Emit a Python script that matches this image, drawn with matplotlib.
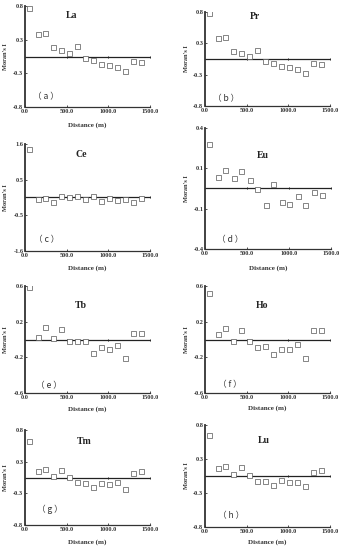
import numpy as np
import matplotlib
matplotlib.use("Agg")
import matplotlib.pyplot as plt

# ---------------- data ----------------
distance = [50, 152, 240, 340, 433, 532, 624, 722, 814, 914, 1005, 1105, 1196, 1293, 1388]

elements = ["La", "Pr", "Ce", "Eu", "Tb", "Ho", "Tm", "Lu"]
panel_tags = ["a", "b", "c", "d", "e", "f", "g", "h"]
y_limits = [0.8, 0.8, 1.6, 0.4, 0.6, 0.6, 0.8, 0.8]

moran_La = [0.77, 0.36, 0.365, 0.144, 0.097, 0.055, 0.16, -0.03, -0.06, -0.12, -0.14, -0.17, -0.23, -0.07, -0.08]
moran_Pr = [0.775, 0.365, 0.37, 0.14, 0.10, 0.05, 0.157, -0.04, -0.067, -0.124, -0.14, -0.174, -0.236, -0.067, -0.084]
moran_Ce = [1.45, -0.05, -0.02, -0.14, 0.05, 0.0, 0.05, -0.04, 0.04, -0.11, -0.01, -0.07, -0.04, -0.12, -0.01]
moran_Eu = [0.293, 0.074, 0.122, 0.072, 0.114, 0.055, -0.002, -0.107, 0.028, -0.09, -0.10, -0.05, -0.109, -0.022, -0.042]
moran_Tb = [0.585, 0.028, 0.144, 0.017, 0.114, -0.017, -0.017, -0.013, -0.155, -0.088, -0.11, -0.058, -0.211, 0.069, 0.073]
moran_Ho = [0.523, 0.067, 0.127, -0.015, 0.108, -0.019, -0.086, -0.075, -0.164, -0.105, -0.112, -0.045, -0.202, 0.101, 0.112]
moran_Tm = [0.62, 0.115, 0.149, 0.02, 0.132, 0.003, -0.08, -0.087, -0.154, -0.093, -0.115, -0.08, -0.19, 0.081, 0.104]
moran_Lu = [0.645, 0.131, 0.157, 0.026, 0.147, 0.01, -0.073, -0.084, -0.136, -0.068, -0.094, -0.10, -0.163, 0.068, 0.094]

series = [moran_La, moran_Pr, moran_Ce, moran_Eu, moran_Tb, moran_Ho, moran_Tm, moran_Lu]
x_ticks = [0, 500, 1000, 1500]
x_ticklabels = ["0.0", "500.0", "1000.0", "1500.0"]

# ---------------- layout (pixels) ----------------
W, H = 343, 550
# (left px, right px, top px, bottom px)
boxes = [
    (25, 150, 6, 107), (205, 330, 12, 106),
    (25, 150, 144, 251), (205, 331, 128, 249),
    (25, 150, 286, 393), (205, 330, 286, 393),
    (25, 150, 430, 525), (205, 330, 425, 527),
]
title_pos = [(0.37, 0.91), (0.40, 0.95), (0.45, 0.90), (0.46, 0.77),
             (0.45, 0.82), (0.46, 0.82), (0.47, 0.88), (0.47, 0.85)]
tag_pos = [(0.17, 0.10), (0.17, 0.08), (0.17, 0.11), (0.20, 0.08),
           (0.19, 0.07), (0.20, 0.08), (0.20, 0.16), (0.21, 0.115)]
xlabel_y = [125, None, 268, 268, 409, 408, 542, 542]

serif = ["Liberation Serif", "DejaVu Serif"]
fig = plt.figure(figsize=(W / 100, H / 100), dpi=100)
fig.patch.set_facecolor("white")

for i, (el, tag, lim, vals) in enumerate(zip(elements, panel_tags, y_limits, series)):
    l, r, t, b = boxes[i]
    ax = fig.add_axes([l / W, 1 - b / H, (r - l) / W, (b - t) / H])
    ax.set_xlim(0, 1500)
    ax.set_ylim(-lim, lim)
    for s in ["top", "right"]:
        ax.spines[s].set_visible(False)
    ax.spines["left"].set_linewidth(1.3)
    ax.spines["left"].set_color("#333333")
    ax.spines["bottom"].set_linewidth(0.9)
    ax.spines["bottom"].set_color("#333333")

    # zero reference line with small ticks
    ax.plot([0, 1500], [0, 0], color="#222222", lw=0.9, zorder=1)
    ax.plot(x_ticks[1:], [0] * 3, linestyle="none", marker="|", markersize=2,
            color="#222222", markeredgewidth=0.7, zorder=1)

    ax.plot(distance, vals, linestyle="none", marker="s", markersize=3.6,
            markerfacecolor="white", markeredgecolor="#555555", markeredgewidth=0.5, zorder=3)

    yt = np.linspace(lim, -lim, 4)
    ax.set_yticks(yt)
    ax.set_yticklabels(["%.1f" % v for v in yt])
    ax.set_xticks(x_ticks)
    ax.set_xticklabels(x_ticklabels)
    ax.tick_params(axis="both", direction="in", length=1.5, width=0.6, pad=1.2,
                   labelsize=4.5, colors="#333333")
    for lab in ax.get_xticklabels() + ax.get_yticklabels():
        lab.set_fontfamily(serif)
        lab.set_fontweight("bold")

    ax.text(title_pos[i][0], title_pos[i][1], el, transform=ax.transAxes,
            fontsize=7, fontweight="bold", family=serif, ha="center", va="center",
            color="#222222")
    ax.text(tag_pos[i][0], tag_pos[i][1], "（ %s ）" % tag, transform=ax.transAxes,
            fontsize=6.2, family=["Noto Sans CJK SC", "DejaVu Sans"], ha="center",
            va="center", color="#333333")

    # y label
    fig.text((l - 19) / W, 1 - ((t + b) / 2) / H, "Moran's I", rotation=90,
             fontsize=4.6, fontweight="bold", family=serif, ha="center", va="center",
             color="#333333")
    if xlabel_y[i] is not None:
        fig.text((l + r) / 2 / W, 1 - xlabel_y[i] / H, "Distance (m)",
                 fontsize=5, fontweight="bold", family=serif, ha="center",
                 va="center", color="#333333")

fig.savefig("out.png", dpi=100, facecolor="white")
